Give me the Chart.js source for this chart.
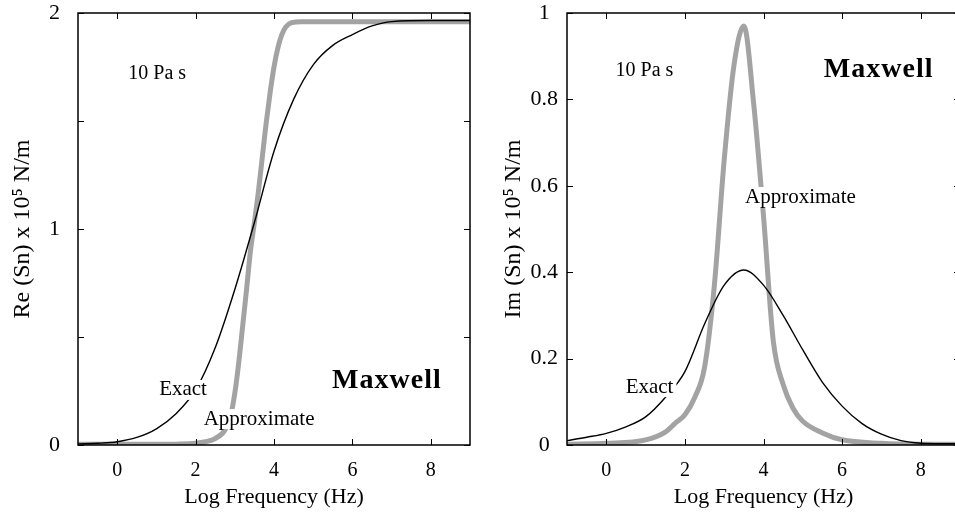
<!DOCTYPE html>
<html>
<head>
<meta charset="utf-8">
<script src="https://cdn.jsdelivr.net/npm/chart.js@4.4.0/dist/chart.umd.min.js"></script>
<style>
  html, body { margin: 0; padding: 0; background: #fff; overflow: hidden; }
  .panel { position: absolute; top: 0; width: 480px; height: 514px; }
</style>
</head>
<body>
<div class="panel" style="left:0"><canvas id="reChart"></canvas></div>
<div class="panel" style="left:480px"><canvas id="imChart"></canvas></div>
<script>
// x = log frequency (Hz)
const xTickValues = [0, 2, 4, 6, 8];

// left panel: Re(Sn)
const reExactX  = [-1, -0.5, 0, 0.5, 1, 1.5, 2, 2.5, 3, 3.5, 4, 4.5, 5, 5.5, 6, 6.5, 7, 8, 9];
const reExactY  = [0.005, 0.008, 0.015, 0.035, 0.075, 0.145, 0.255, 0.45, 0.72, 1.03, 1.36, 1.6, 1.76, 1.85, 1.9, 1.94, 1.96, 1.965, 1.965];
const reApproxX = [-1, 0, 1, 1.5, 2, 2.25, 2.5, 2.75, 2.9, 3, 3.1, 3.2, 3.3, 3.4, 3.5, 3.6, 3.7, 3.8, 3.9, 4, 4.1, 4.2, 4.3, 4.45, 4.7, 5, 6, 7, 8, 9];
const reApproxY = [0.003, 0.003, 0.003, 0.004, 0.008, 0.015, 0.03, 0.07, 0.14, 0.24, 0.38, 0.55, 0.72, 0.9, 1.03, 1.17, 1.33, 1.49, 1.63, 1.75, 1.84, 1.9, 1.935, 1.955, 1.96, 1.96, 1.96, 1.96, 1.96, 1.96];
const reTickLabels = [0, 1, 2];
const reTickMarks = [0, 0.5, 1, 1.5, 2];

// right panel: Im(Sn)
const imExactX  = [-1, -0.5, 0, 0.5, 1, 1.5, 2, 2.5, 3, 3.5, 4, 4.5, 5, 5.5, 6, 6.5, 7, 7.5, 8, 8.5, 9];
const imExactY  = [0.01, 0.018, 0.027, 0.042, 0.065, 0.11, 0.17, 0.28, 0.37, 0.405, 0.37, 0.3, 0.22, 0.145, 0.09, 0.05, 0.025, 0.01, 0.004, 0.003, 0.003];
const imApproxX = [-1, 0, 1, 1.5, 1.75, 2, 2.25, 2.5, 2.75, 3, 3.25, 3.5, 3.75, 4, 4.25, 4.5, 4.75, 5, 5.5, 6, 7, 8, 9];
const imApproxY = [0.002, 0.004, 0.012, 0.03, 0.05, 0.07, 0.11, 0.18, 0.37, 0.66, 0.88, 0.97, 0.79, 0.53, 0.24, 0.14, 0.085, 0.055, 0.028, 0.012, 0.004, 0.002, 0.002];
const imTickLabels = [0, 0.2, 0.4, 0.6, 0.8, 1];

const serif = "'Liberation Serif', 'DejaVu Serif', serif";

function pts(xs, ys) {
  return xs.map((x, i) => ({ x: x, y: ys[i] }));
}

// frame, inward ticks and text notes
const frameTicks = {
  id: 'frameTicks',
  afterDatasetsDraw(chart, args, opts) {
    const ctx = chart.ctx;
    const a = chart.chartArea;
    const xs = chart.scales.x, ys = chart.scales.y;
    ctx.save();
    opts.notes.forEach(n => {
      ctx.font = n.font;
      ctx.letterSpacing = n.spacing || '0px';
      const px = xs.getPixelForValue(n.x);
      const py = ys.getPixelForValue(n.y);
      const w = ctx.measureText(n.text).width;
      if (n.knock) {
        ctx.fillStyle = '#fff';
        ctx.fillRect(px - w / 2 - 3, py - 10, w + 6, 20);
      }
      ctx.fillStyle = '#000';
      ctx.textAlign = 'center';
      ctx.textBaseline = 'middle';
      ctx.fillText(n.text, px, py);
    });
    ctx.letterSpacing = '0px';
    ctx.strokeStyle = '#000';
    ctx.lineWidth = 1.5;
    ctx.strokeRect(a.left, a.top, a.right - a.left, a.bottom - a.top);
    ctx.lineWidth = 1;
    ctx.beginPath();
    xTickValues.forEach(v => {
      const px = Math.round(xs.getPixelForValue(v)) + 0.5;
      ctx.moveTo(px, a.bottom); ctx.lineTo(px, a.bottom - 6);
      ctx.moveTo(px, a.top); ctx.lineTo(px, a.top + 6);
    });
    opts.yMarks.forEach(v => {
      const py = Math.round(ys.getPixelForValue(v)) + 0.5;
      ctx.moveTo(a.left, py); ctx.lineTo(a.left + 6, py);
      ctx.moveTo(a.right, py); ctx.lineTo(a.right - 6, py);
    });
    ctx.stroke();
    ctx.restore();
  }
};

function makeChart(id, cfg) {
  return new Chart(document.getElementById(id), {
    type: 'scatter',
    data: {
      datasets: [{
        label: 'Exact',
        data: cfg.exact,
        showLine: true,
        borderColor: '#000',
        borderWidth: 1.4,
        pointRadius: 0,
        cubicInterpolationMode: 'monotone'
      }, {
        label: 'Approximate',
        data: cfg.approx,
        showLine: true,
        borderColor: '#a3a3a3',
        borderWidth: 5,
        pointRadius: 0,
        cubicInterpolationMode: 'monotone'
      }]
    },
    options: {
      responsive: true,
      maintainAspectRatio: false,
      animation: false,
      layout: { padding: { top: 13, right: cfg.padRight, left: 0, bottom: 0 } },
      plugins: {
        legend: { display: false },
        tooltip: { enabled: false },
        frameTicks: { notes: cfg.notes, yMarks: cfg.yMarks }
      },
      scales: {
        x: {
          type: 'linear',
          min: -1,
          max: 9,
          afterBuildTicks: s => { s.ticks = xTickValues.map(v => ({ value: v })); },
          afterFit: s => { s.height = 69; s.paddingLeft = 0; s.paddingRight = 0; },
          grid: { display: false, drawTicks: false },
          border: { display: false },
          ticks: { color: '#000', font: { family: serif, size: 20 }, padding: 14, maxRotation: 0 },
          title: {
            display: true,
            text: 'Log Frequency (Hz)',
            color: '#000',
            font: { family: serif, size: 22 },
            padding: { top: 0, bottom: 4 }
          }
        },
        y: {
          type: 'linear',
          min: cfg.yMin,
          max: cfg.yMax,
          afterBuildTicks: s => { s.ticks = cfg.yLabels.map(v => ({ value: v })); },
          afterFit: s => { s.width = cfg.yWidth; s.paddingTop = 0; s.paddingBottom = 0; },
          grid: { display: false, drawTicks: false },
          border: { display: false },
          ticks: {
            color: '#000',
            font: { family: serif, size: 22 },
            padding: cfg.tickPad,
            crossAlign: 'center',
            callback: v => String(v)
          },
          title: {
            display: true,
            text: cfg.yTitle,
            color: '#000',
            font: { family: serif, size: 24 },
            padding: { top: cfg.titlePad, bottom: 0 }
          }
        }
      }
    },
    plugins: [frameTicks]
  });
}

makeChart('reChart', {
  exact: pts(reExactX, reExactY),
  approx: pts(reApproxX, reApproxY),
  yMin: 0, yMax: 2,
  yLabels: reTickLabels,
  yMarks: reTickMarks,
  yWidth: 78, tickPad: 18, titlePad: 8, padRight: 10,
  yTitle: 'Re (Sn) x 10\u2075 N/m',
  notes: [
    { text: '10 Pa s', x: 1.02, y: 1.72, font: '20px ' + serif },
    { text: 'Exact', x: 1.68, y: 0.255, font: '21px ' + serif, knock: true },
    { text: 'Approximate', x: 3.62, y: 0.12, font: '21px ' + serif, knock: true },
    { text: 'Maxwell', x: 6.88, y: 0.296, font: 'bold 28px ' + serif, spacing: '1px' }
  ]
});

makeChart('imChart', {
  exact: pts(imExactX, imExactY),
  approx: pts(imApproxX, imApproxY),
  yMin: 0, yMax: 1,
  yLabels: imTickLabels,
  yMarks: imTickLabels,
  yWidth: 87, tickPad: 9, titlePad: 19, padRight: 0,
  yTitle: 'Im (Sn) x 10\u2075 N/m',
  notes: [
    { text: '10 Pa s', x: 0.97, y: 0.866, font: '20px ' + serif },
    { text: 'Maxwell', x: 6.93, y: 0.868, font: 'bold 28px ' + serif, spacing: '1px' },
    { text: 'Approximate', x: 4.94, y: 0.574, font: '21px ' + serif, knock: true },
    { text: 'Exact', x: 1.1, y: 0.134, font: '21px ' + serif, knock: true }
  ]
});
</script>
</body>
</html>
